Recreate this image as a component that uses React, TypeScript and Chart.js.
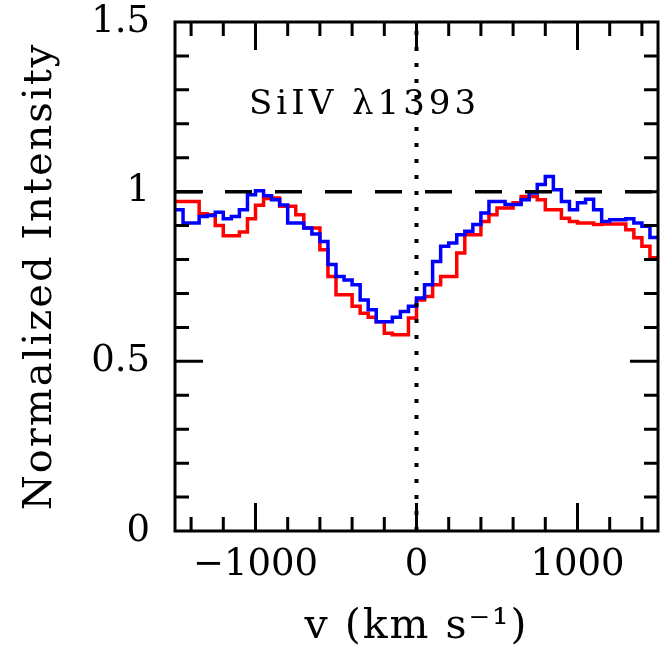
import React, { useEffect, useRef } from 'react';
import { Chart, registerables } from 'chart.js';

Chart.register(...registerables);

// ---- data (velocity bins, km/s) ----
const binCenters = [
  -1475, -1425, -1375, -1325, -1275, -1225, -1175, -1125, -1075, -1025,
  -975, -925, -875, -825, -775, -725, -675, -625, -575, -525,
  -475, -425, -375, -325, -275, -225, -175, -125, -75, -25,
  25, 75, 125, 175, 225, 275, 325, 375, 425, 475,
  525, 575, 625, 675, 725, 775, 825, 875, 925, 975,
  1025, 1075, 1125, 1175, 1225, 1275, 1325, 1375, 1425, 1475,
];

const redValues = [
  0.971, 0.971, 0.971, 0.935, 0.932, 0.900, 0.870, 0.870, 0.881, 0.920,
  0.960, 0.980, 0.981, 0.957, 0.957, 0.932, 0.893, 0.893, 0.829, 0.750,
  0.696, 0.696, 0.662, 0.642, 0.630, 0.617, 0.583, 0.578, 0.578, 0.628,
  0.681, 0.691, 0.726, 0.750, 0.750, 0.819, 0.873, 0.873, 0.912, 0.932,
  0.952, 0.952, 0.967, 0.986, 0.986, 0.976, 0.947, 0.947, 0.922, 0.912,
  0.908, 0.908, 0.903, 0.905, 0.905, 0.905, 0.888, 0.864, 0.839, 0.805,
];

const blueValues = [
  0.947, 0.908, 0.908, 0.927, 0.930, 0.939, 0.920, 0.927, 0.947, 0.991,
  1.003, 0.988, 0.976, 0.961, 0.908, 0.908, 0.893, 0.875, 0.853, 0.785,
  0.750, 0.740, 0.726, 0.681, 0.652, 0.617, 0.617, 0.630, 0.647, 0.662,
  0.687, 0.726, 0.794, 0.839, 0.849, 0.873, 0.883, 0.903, 0.937, 0.971,
  0.971, 0.962, 0.962, 0.976, 0.996, 1.021, 1.045, 1.006, 0.971, 0.947,
  0.967, 0.978, 0.947, 0.912, 0.917, 0.917, 0.920, 0.908, 0.898, 0.865,
];

const xRange = [-1500, 1500];
const yRange = [0, 1.5];
const xTickValues = [-1000, 0, 1000];
const xTickLabels = ['\u22121000', '0', '1000'];
const xAllTicks = [-1400, -1200, -1000, -800, -600, -400, -200, 0, 200, 400, 600, 800, 1000, 1200, 1400];
const yTickValues = [0, 0.5, 1, 1.5];
const yTickLabels = ['0', '0.5', '1', '1.5'];
const yAllTicks = [0.1, 0.2, 0.3, 0.4, 0.5, 0.6, 0.7, 0.8, 0.9, 1.0, 1.1, 1.2, 1.3, 1.4];
const continuumLevel = 1;
const lineCenter = 0;
const lineLabel = 'SiIV \u03bb1393';
const labelPos = [-1040, 1.228];
const xTitle = 'v (km s\u207b\u00b9)';
const yTitle = 'Normalized Intensity';

const FONT = '"DejaVu Serif", "Liberation Serif", serif';

function histogram(values: number[]) {
  const pts = binCenters.map((x, i) => ({ x, y: values[i] }));
  return [{ x: xRange[0], y: values[0] }, ...pts, { x: xRange[1], y: values[values.length - 1] }];
}

const spacingPlugin = {
  id: 'spacing',
  beforeDraw(chart: any) {
    (chart.ctx as any).letterSpacing = '2px';
  },
  beforeDatasetsDraw(chart: any) {
    (chart.ctx as any).letterSpacing = '0px';
  },
};

const framePlugin = {
  id: 'frame',
  afterDraw(chart: any) {
    const { ctx, chartArea: a, scales } = chart;
    const xs = scales.x;
    const ys = scales.y;
    ctx.save();
    ctx.strokeStyle = '#000';
    ctx.lineWidth = 3;
    ctx.lineCap = 'butt';
    ctx.beginPath();
    for (const v of xAllTicks) {
      const len = xTickValues.includes(v) ? 28 : 14;
      const px = xs.getPixelForValue(v);
      ctx.moveTo(px, a.bottom);
      ctx.lineTo(px, a.bottom - len);
      ctx.moveTo(px, a.top);
      ctx.lineTo(px, a.top + len);
    }
    for (const v of yAllTicks) {
      const major = yTickValues.some((t) => Math.abs(t - v) < 1e-9);
      const len = major ? 28 : 14;
      const py = ys.getPixelForValue(v);
      ctx.moveTo(a.left, py);
      ctx.lineTo(a.left + len, py);
      ctx.moveTo(a.right, py);
      ctx.lineTo(a.right - len, py);
    }
    ctx.stroke();
    ctx.strokeRect(a.left, a.top, a.right - a.left, a.bottom - a.top);

    (ctx as any).letterSpacing = '4px';
    ctx.font = `34px ${FONT}`;
    ctx.fillStyle = '#000';
    ctx.textAlign = 'left';
    ctx.textBaseline = 'alphabetic';
    ctx.fillText(lineLabel, xs.getPixelForValue(labelPos[0]), ys.getPixelForValue(labelPos[1]));
    ctx.restore();
  },
};

export default function App() {
  const ref = useRef<HTMLCanvasElement>(null);
  useEffect(() => {
    const chart = new Chart(ref.current as HTMLCanvasElement, {
      type: 'line',
      data: {
        datasets: [
          {
            label: 'v = 0',
            data: [{ x: lineCenter, y: yRange[0] }, { x: lineCenter, y: yRange[1] }],
            borderColor: '#000',
            borderWidth: 4,
            borderDash: [4, 12],
            pointRadius: 0,
          },
          {
            label: 'continuum',
            data: [{ x: xRange[0], y: continuumLevel }, { x: xRange[1], y: continuumLevel }],
            borderColor: '#000',
            borderWidth: 3.5,
            borderDash: [27, 23],
            pointRadius: 0,
          },
          {
            label: 'blue',
            data: histogram(blueValues),
            borderColor: '#0000ff',
            borderWidth: 3.5,
            stepped: 'middle',
            pointRadius: 0,
          },
          {
            label: 'red',
            data: histogram(redValues),
            borderColor: '#ff0000',
            borderWidth: 3.5,
            stepped: 'middle',
            pointRadius: 0,
          },
        ],
      } as any,
      options: {
        animation: false,
        responsive: false,
        devicePixelRatio: 1,
        events: [],
        layout: { padding: { top: 22, right: 6, left: 0, bottom: 0 } },
        plugins: { legend: { display: false }, tooltip: { enabled: false } },
        scales: {
          x: {
            type: 'linear',
            position: 'bottom',
            min: xRange[0],
            max: xRange[1],
            grid: { display: false, drawTicks: false },
            border: { display: false },
            afterBuildTicks: (s: any) => {
              s.ticks = xTickValues.map((value) => ({ value }));
            },
            afterFit: (s: any) => {
              s.height = 117;
              s.paddingLeft = 0;
              s.paddingRight = 0;
            },
            ticks: {
              callback: (v: any) => xTickLabels[xTickValues.indexOf(Number(v))] ?? '',
              font: { family: FONT, size: 37 },
              color: '#000',
              padding: 12,
              maxRotation: 0,
              minRotation: 0,
              autoSkip: false,
              z: 1,
            },
            title: {
              display: true,
              text: xTitle,
              color: '#000',
              font: { family: FONT, size: 41, lineHeight: 1 },
              padding: { top: 0, bottom: 0 },
            },
          },
          y: {
            type: 'linear',
            position: 'left',
            min: yRange[0],
            max: yRange[1],
            grid: { display: false, drawTicks: false },
            border: { display: false },
            afterBuildTicks: (s: any) => {
              s.ticks = yTickValues.map((value) => ({ value }));
            },
            afterFit: (s: any) => {
              s.width = 175;
              s.paddingTop = 0;
              s.paddingBottom = 0;
            },
            ticks: {
              callback: (v: any) => {
                const i = yTickValues.findIndex((t) => Math.abs(t - Number(v)) < 1e-9);
                return i >= 0 ? yTickLabels[i] : '';
              },
              font: { family: FONT, size: 37 },
              color: '#000',
              padding: 25,
              autoSkip: false,
              z: 1,
            },
            title: {
              display: true,
              text: yTitle,
              color: '#000',
              font: { family: FONT, size: 40, lineHeight: 1.2 },
              padding: { top: 17, bottom: 0 },
            },
          },
        },
      } as any,
      plugins: [spacingPlugin, framePlugin],
    });
    return () => chart.destroy();
  }, []);
  return (
    <div style={{ position: 'fixed', left: 0, top: 0, width: 664, height: 648, background: '#fff' }}>
      <canvas ref={ref} width={664} height={648} style={{ display: 'block' }} />
    </div>
  );
}
